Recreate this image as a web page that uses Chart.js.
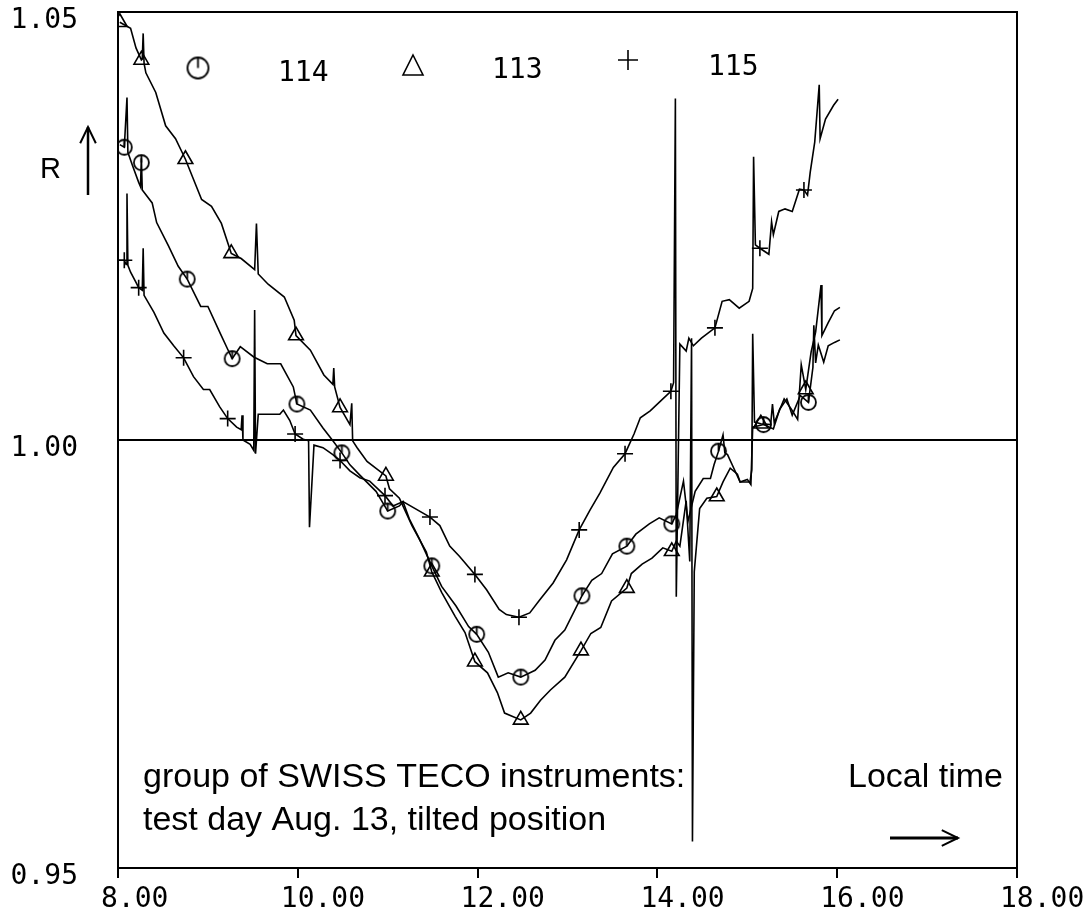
<!DOCTYPE html>
<html>
<head>
<meta charset="utf-8">
<script src="https://cdn.jsdelivr.net/npm/chart.js@4.4.1/dist/chart.umd.min.js"></script>
<style>
  body { margin: 0; background: #fff; }
  #divGrafico { width: 1090px; height: 915px; position: relative; }
</style>
</head>
<body>
<div id="divGrafico"><canvas id="graficoR"></canvas></div>
<script>
// local time (h) and ratio R for each instrument
const t113 = [8.02, 8.14, 8.20, 8.26, 8.27, 8.28, 8.29, 8.31, 8.42, 8.53, 8.64, 8.75, 8.93, 9.04, 9.15, 9.26, 9.37, 9.52, 9.54, 9.56,
  9.67, 9.85, 9.96, 9.98, 10.14, 10.29, 10.39, 10.40, 10.41, 10.47, 10.58, 10.60, 10.61, 10.66, 10.77, 10.98, 11.02, 11.13, 11.27, 11.43,
  11.49, 11.60, 11.75, 11.86, 11.97, 12.11, 12.22, 12.30, 12.48, 12.59, 12.70, 12.81, 12.97, 13.15, 13.26, 13.37, 13.49, 13.66, 13.71, 13.83,
  13.94, 14.06, 14.16, 14.21, 14.25, 14.32, 14.36, 14.38, 14.39, 14.41, 14.47, 14.55, 14.66, 14.73, 14.81, 14.89, 14.92, 15.03, 15.05, 15.06,
  15.08, 15.15, 15.26, 15.28, 15.30, 15.41, 15.49, 15.56, 15.60, 15.65, 15.71, 15.76, 15.82, 15.83, 15.90, 15.97, 16.03]
const r113 = [1.0488, 1.0481, 1.0458, 1.0444, 1.0445, 1.0475, 1.0440, 1.0429, 1.0406, 1.0367, 1.0352, 1.0328, 1.0281, 1.0273, 1.0253, 1.0218, 1.0212, 1.0199, 1.0253, 1.0194,
  1.0182, 1.0167, 1.0140, 1.0122, 1.0105, 1.0076, 1.0065, 1.0084, 1.0062, 1.0038, 1.0018, 1.0043, 0.9999, 0.9991, 0.9975, 0.9958, 0.9943, 0.9932, 0.9900, 0.9869,
  0.9846, 0.9822, 0.9794, 0.9775, 0.9741, 0.9728, 0.9705, 0.9681, 0.9673, 0.9681, 0.9696, 0.9708, 0.9723, 0.9754, 0.9774, 0.9781, 0.9812, 0.9827, 0.9844, 0.9855,
  0.9862, 0.9874, 0.9870, 0.9882, 0.9876, 0.9929, 0.9858, 1.0119, 0.9531, 0.9846, 0.9920, 0.9932, 0.9934, 0.9951, 0.9967, 0.9960, 0.9951, 0.9951, 0.9965, 1.0124,
  1.0021, 1.0019, 1.0018, 1.0042, 1.0020, 1.0048, 1.0036, 1.0024, 1.0088, 1.0059, 1.0103, 1.0126, 1.0181, 1.0122, 1.0137, 1.0151, 1.0155]

const t114 = [8.02, 8.07, 8.10, 8.11, 8.16, 8.23, 8.25, 8.26, 8.27, 8.38, 8.43, 8.56, 8.67, 8.77, 8.92, 9.00, 9.14, 9.22, 9.27, 9.36,
  9.51, 9.66, 9.81, 9.95, 9.99, 10.14, 10.28, 10.39, 10.49, 10.58, 10.69, 10.87, 11.00, 11.13, 11.17, 11.24, 11.35, 11.49, 11.60, 11.76,
  11.90, 11.99, 12.12, 12.23, 12.34, 12.48, 12.64, 12.75, 12.86, 12.97, 13.16, 13.27, 13.38, 13.50, 13.66, 13.76, 13.91, 14.02, 14.16, 14.21,
  14.29, 14.34, 14.42, 14.51, 14.59, 14.63, 14.68, 14.73, 14.75, 14.78, 14.85, 14.92, 15.00, 15.04, 15.06, 15.18, 15.29, 15.36, 15.44, 15.50,
  15.59, 15.68, 15.73, 15.74, 15.76, 15.79, 15.85, 15.90, 15.97, 16.03]
const r114 = [1.0345, 1.0342, 1.0400, 1.0336, 1.0321, 1.0301, 1.0296, 1.0329, 1.0292, 1.0277, 1.0254, 1.0227, 1.0203, 1.0188, 1.0156, 1.0156, 1.0124, 1.0106, 1.0095, 1.0109,
  1.0097, 1.0089, 1.0089, 1.0062, 1.0042, 1.0035, 1.0014, 0.9999, 0.9985, 0.9971, 0.9959, 0.9940, 0.9917, 0.9923, 0.9928, 0.9908, 0.9885, 0.9853, 0.9829, 0.9806,
  0.9782, 0.9773, 0.9752, 0.9723, 0.9728, 0.9723, 0.9731, 0.9743, 0.9766, 0.9778, 0.9818, 0.9836, 0.9844, 0.9867, 0.9876, 0.9890, 0.9902, 0.9909, 0.9902, 0.9913,
  0.9952, 0.9905, 0.9940, 0.9955, 0.9955, 0.9971, 0.9987, 1.0006, 0.9985, 0.9983, 0.9967, 0.9951, 0.9954, 0.9948, 1.0015, 1.0018, 1.0013, 1.0036, 1.0048, 1.0029,
  1.0052, 1.0044, 1.0085, 1.0134, 1.0090, 1.0111, 1.0091, 1.0110, 1.0114, 1.0117]

const t115 = [8.00, 8.07, 8.09, 8.10, 8.11, 8.14, 8.20, 8.23, 8.27, 8.28, 8.29, 8.40, 8.51, 8.62, 8.73, 8.84, 8.95, 9.02, 9.13, 9.22,
  9.32, 9.37, 9.38, 9.39, 9.47, 9.51, 9.52, 9.53, 9.56, 9.80, 9.84, 9.91, 9.97, 10.06, 10.12, 10.13, 10.18, 10.28, 10.39, 10.47,
  10.58, 10.69, 10.80, 10.97, 11.06, 11.17, 11.47, 11.58, 11.69, 11.80, 11.97, 12.10, 12.24, 12.32, 12.46, 12.58, 12.69, 12.84, 12.99, 13.13,
  13.25, 13.36, 13.51, 13.64, 13.74, 13.81, 13.92, 14.04, 14.15, 14.18, 14.20, 14.21, 14.25, 14.32, 14.35, 14.40, 14.49, 14.64, 14.72, 14.80,
  14.91, 15.02, 15.06, 15.07, 15.09, 15.14, 15.24, 15.27, 15.29, 15.35, 15.42, 15.50, 15.58, 15.63, 15.67, 15.70, 15.75, 15.80, 15.81, 15.87,
  15.96, 16.01]
const r115 = [1.0210, 1.0210, 1.0205, 1.0288, 1.0204, 1.0196, 1.0184, 1.0178, 1.0175, 1.0224, 1.0169, 1.0149, 1.0125, 1.0110, 1.0096, 1.0074, 1.0059, 1.0059, 1.0039, 1.0025,
  1.0015, 1.0012, 1.0029, 1.0000, 0.9995, 0.9988, 1.0152, 0.9984, 1.0030, 1.0030, 1.0035, 1.0023, 1.0007, 1.0001, 0.9999, 0.9898, 0.9994, 0.9991, 0.9983, 0.9976,
  0.9964, 0.9956, 0.9952, 0.9935, 0.9923, 0.9928, 0.9910, 0.9900, 0.9876, 0.9864, 0.9843, 0.9825, 0.9802, 0.9796, 0.9793, 0.9798, 0.9813, 0.9833, 0.9860, 0.9895,
  0.9918, 0.9938, 0.9968, 0.9984, 1.0007, 1.0026, 1.0034, 1.0046, 1.0057, 1.0067, 1.0399, 0.9817, 1.0112, 1.0104, 1.0119, 1.0110, 1.0119, 1.0131, 1.0162, 1.0164,
  1.0154, 1.0162, 1.0177, 1.0331, 1.0228, 1.0224, 1.0217, 1.0255, 1.0240, 1.0267, 1.0270, 1.0267, 1.0293, 1.0292, 1.0286, 1.0313, 1.0348, 1.0415, 1.0352, 1.0375,
  1.0391, 1.0398]

// plotter symbols, roughly every half hour
const mt113 = [8.02, 8.26, 8.75, 9.26, 9.98, 10.47, 10.98, 11.49, 11.97, 12.48, 13.15, 13.66, 14.16, 14.66, 15.15, 15.65]
const mr113 = [1.0488, 1.0444, 1.0328, 1.0218, 1.0122, 1.0038, 0.9958, 0.9846, 0.9741, 0.9673, 0.9754, 0.9827, 0.9870, 0.9934, 1.0019, 1.0059]
const mt114 = [8.07, 8.26, 8.77, 9.27, 9.99, 10.49, 11.00, 11.49, 11.99, 12.48, 13.16, 13.66, 14.16, 14.68, 15.18, 15.68]
const mr114 = [1.0342, 1.0324, 1.0188, 1.0095, 1.0042, 0.9985, 0.9917, 0.9853, 0.9773, 0.9723, 0.9818, 0.9876, 0.9902, 0.9987, 1.0018, 1.0044]
const mt115 = [8.07, 8.23, 8.73, 9.22, 9.97, 10.47, 10.97, 11.47, 11.97, 12.46, 13.13, 13.64, 14.15, 14.64, 15.14, 15.63]
const mr115 = [1.0210, 1.0178, 1.0096, 1.0025, 1.0007, 0.9976, 0.9935, 0.9910, 0.9843, 0.9793, 0.9895, 0.9984, 1.0057, 1.0131, 1.0224, 1.0292]

const xTicks = [8, 10, 12, 14, 16, 18]
const yTicks = [0.95, 1.00, 1.05]

const fuenteEjes = "'DejaVu Sans Mono', monospace"
const fuenteTexto = "'Liberation Sans', Arial, sans-serif"

const puntos = (t, r) => t.map((x, i) => ({x, y: r[i]}))

// circle with the little tick of the plotter symbol
const marcaCirculo = (radio) => {
  const c = document.createElement('canvas')
  const s = Math.ceil(radio * 2 + 4)
  c.width = s
  c.height = s
  const g = c.getContext('2d')
  g.strokeStyle = '#000'
  g.lineWidth = 1.8
  g.beginPath()
  g.arc(s / 2, s / 2, radio, 0, Math.PI * 2)
  g.stroke()
  g.beginPath()
  g.moveTo(s / 2, s / 2 - radio)
  g.lineTo(s / 2, s / 2)
  g.stroke()
  return c
}

const linea = (t, r) => ({
  data: puntos(t, r),
  showLine: true,
  borderColor: '#000',
  borderWidth: 1.6,
  pointRadius: 0,
  tension: 0
})

const marcas = (t, r, estilo, radio) => ({
  data: puntos(t, r),
  showLine: false,
  pointStyle: estilo,
  pointRadius: radio,
  pointBorderWidth: 1.6,
  pointBorderColor: '#000',
  pointBackgroundColor: 'rgba(0,0,0,0)'
})

const flecha = (ctx, x1, y1, x2, y2, ancho) => {
  const a = Math.atan2(y2 - y1, x2 - x1)
  ctx.save()
  ctx.strokeStyle = '#000'
  ctx.lineWidth = ancho
  ctx.beginPath()
  ctx.moveTo(x1, y1)
  ctx.lineTo(x2, y2)
  ctx.stroke()
  ctx.lineWidth = 2
  ctx.beginPath()
  ctx.moveTo(x2 - 18 * Math.cos(a - 0.45), y2 - 18 * Math.sin(a - 0.45))
  ctx.lineTo(x2, y2)
  ctx.lineTo(x2 - 18 * Math.cos(a + 0.45), y2 - 18 * Math.sin(a + 0.45))
  ctx.stroke()
  ctx.restore()
}

// frame, key and captions
const textos = {
  id: 'textos',
  afterDraw(chart) {
    const {ctx, chartArea: a} = chart
    ctx.save()
    ctx.strokeStyle = '#000'
    ctx.lineWidth = 2
    ctx.strokeRect(a.left, a.top, a.right - a.left, a.bottom - a.top)

    ctx.fillStyle = '#000'
    ctx.font = `28px ${fuenteEjes}`
    ctx.textBaseline = 'alphabetic'
    const c = marcaCirculo(10.5)
    ctx.drawImage(c, 198 - c.width / 2, 68 - c.height / 2)
    ctx.fillText('114', 278, 81)
    ctx.lineWidth = 1.6
    ctx.beginPath()
    ctx.moveTo(413, 55)
    ctx.lineTo(423, 75)
    ctx.lineTo(403, 75)
    ctx.closePath()
    ctx.stroke()
    ctx.fillText('113', 492, 78)
    ctx.beginPath()
    ctx.moveTo(618, 60)
    ctx.lineTo(638, 60)
    ctx.moveTo(628, 50)
    ctx.lineTo(628, 70)
    ctx.stroke()
    ctx.fillText('115', 708, 75)

    ctx.font = `29px ${fuenteTexto}`
    ctx.fillText('R', 40, 178)
    flecha(ctx, 88, 195, 88, 127, 2.5)

    ctx.font = `34px ${fuenteTexto}`
    ctx.fillText('group of SWISS TECO instruments:', 143, 787)
    ctx.fillText('test day Aug. 13, tilted position', 143, 830)
    ctx.fillText('Local time', 848, 787)
    flecha(ctx, 890, 838, 958, 838, 3)
    ctx.restore()
  }
}

new Chart(document.getElementById('graficoR'), {
  type: 'scatter',
  data: {
    datasets: [
      linea(t113, r113),
      linea(t114, r114),
      linea(t115, r115),
      marcas(mt113, mr113, 'triangle', 8.5),
      marcas(mt114, mr114, marcaCirculo(7.5), 8),
      marcas(mt115, mr115, 'cross', 8)
    ]
  },
  options: {
    responsive: true,
    maintainAspectRatio: false,
    animation: false,
    events: [],
    layout: { padding: { top: 12, right: 73, left: 0, bottom: 0 } },
    plugins: { legend: { display: false }, tooltip: { enabled: false } },
    scales: {
      x: {
        type: 'linear',
        min: 8,
        max: 18,
        afterBuildTicks: (s) => { s.ticks = xTicks.map(v => ({value: v})) },
        afterFit: (s) => { s.height = 47; s.paddingLeft = 0; s.paddingRight = 0 },
        ticks: {
          callback: v => v.toFixed(2),
          font: { family: fuenteEjes, size: 28 },
          color: '#000',
          align: 'start',
          labelOffset: -17,
          padding: 5,
          maxRotation: 0,
          autoSkip: false
        },
        grid: { drawOnChartArea: false, tickLength: 10, color: '#000', lineWidth: 2 },
        border: { display: true, color: '#000', width: 2 }
      },
      y: {
        min: 0.95,
        max: 1.05,
        afterBuildTicks: (s) => { s.ticks = yTicks.map(v => ({value: v})) },
        afterFit: (s) => { s.width = 118; s.paddingTop = 0; s.paddingBottom = 0 },
        ticks: {
          callback: v => v.toFixed(2),
          font: { family: fuenteEjes, size: 28 },
          color: '#000',
          padding: 40,
          labelOffset: 9,
          autoSkip: false
        },
        grid: {
          drawTicks: false,
          color: c => Math.abs(c.tick.value - 1) < 1e-9 ? '#000' : 'rgba(0,0,0,0)',
          lineWidth: 2
        },
        border: { display: true, color: '#000', width: 2 }
      }
    }
  },
  plugins: [textos]
})
</script>
</body>
</html>
